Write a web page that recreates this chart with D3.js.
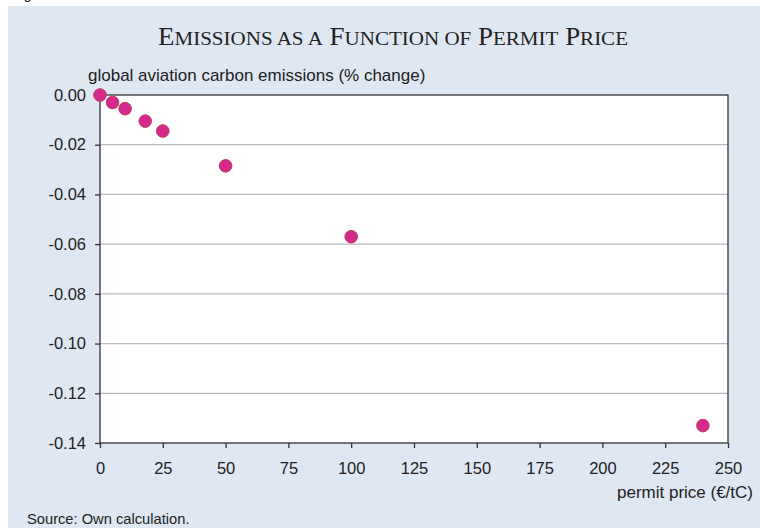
<!DOCTYPE html>
<html>
<head>
<meta charset="utf-8">
<script src="https://cdn.jsdelivr.net/npm/d3@7"></script>
<style>
  body { margin: 0; background: #fff; }
  svg { display: block; }
</style>
</head>
<body>
<svg id="chart" width="760" height="528"></svg>
<script>
// permit price (EUR/tC) vs change in emissions
var prices = [0, 5, 10, 18, 25, 50, 100, 240];
var emissions = [0, -0.003, -0.0055, -0.0105, -0.0145, -0.0285, -0.057, -0.133];
var xTicks = [0, 25, 50, 75, 100, 125, 150, 175, 200, 225, 250];
var yTicks = [0, -0.02, -0.04, -0.06, -0.08, -0.10, -0.12, -0.14];

var svg = d3.select('#chart');
var margin = {left: 100, top: 95, right: 32, bottom: 85},
    w = 760 - margin.left - margin.right,
    h = 528 - margin.top - margin.bottom;
var font = 'Liberation Sans, Arial, sans-serif';

svg.append('rect')
    .attr('x', 8).attr('y', 6)
    .attr('width', 752).attr('height', 522)
    .attr('fill', '#dfe7f3');

// caption above the panel, cut off like in the source
svg.append('text')
    .attr('x', 12).attr('y', -1)
    .attr('font-family', font)
    .attr('font-size', 14)
    .attr('fill', '#222')
    .text('Figure');

var x = d3.scaleLinear().domain([0, 250]).range([0, w]);
var y = d3.scaleLinear().domain([-0.14, 0]).range([h, 0]);

var g = svg.append('g')
    .attr('transform', 'translate(' + margin.left + ',' + margin.top + ')');

g.append('rect')
    .attr('width', w).attr('height', h)
    .attr('fill', '#fff');

g.selectAll('.grid')
    .data(yTicks.slice(1, -1))
    .enter().append('line')
    .attr('class', 'grid')
    .attr('x1', 0).attr('x2', w)
    .attr('y1', function(d) { return y(d); })
    .attr('y2', function(d) { return y(d); })
    .attr('stroke', '#b6b9be')
    .attr('stroke-width', 1.3);

g.append('rect')
    .attr('width', w).attr('height', h)
    .attr('fill', 'none')
    .attr('stroke', '#333')
    .attr('stroke-width', 1.3);

var yAxis = g.append('g')
    .call(d3.axisLeft(y).tickValues(yTicks).tickSize(5).tickPadding(9));
var xAxis = g.append('g')
    .attr('transform', 'translate(0,' + h + ')')
    .call(d3.axisBottom(x).tickValues(xTicks).tickSize(5).tickPadding(14));

[xAxis, yAxis].forEach(function(a) {
    a.select('.domain').remove();
    a.selectAll('line').attr('stroke', '#333').attr('stroke-width', 1.3);
    a.selectAll('text')
        .attr('font-family', font)
        .attr('font-size', 16.5)
        .attr('fill', '#222');
});
yAxis.selectAll('text').text(function(d) { return d3.format('.2f')(d).replace('\u2212', '-'); });

g.selectAll('.dot')
    .data(prices)
    .enter().append('circle')
    .attr('class', 'dot')
    .attr('cx', function(d) { return x(d); })
    .attr('cy', function(d, i) { return y(emissions[i]); })
    .attr('r', 6.3)
    .attr('fill', '#d42a8e')
    .attr('stroke', '#c03a55')
    .attr('stroke-width', 1);

// title in small caps, built by hand
var title = svg.append('text')
    .attr('x', 393).attr('y', 45)
    .attr('text-anchor', 'middle')
    .attr('font-family', 'Liberation Serif, Times New Roman, serif')
    .attr('fill', '#222')
    .attr('textLength', 470)
    .attr('lengthAdjust', 'spacingAndGlyphs');
'Emissions as a Function of Permit Price'.split(' ').forEach(function(word, i) {
    var first = word.charAt(0), rest = word.slice(1);
    var big = first === first.toUpperCase();
    title.append('tspan')
        .attr('font-size', big ? 25 : 19.5)
        .text((i ? ' ' : '') + first.toUpperCase());
    if (rest) {
        title.append('tspan')
            .attr('font-size', 19.5)
            .text(rest.toUpperCase());
    }
});

svg.append('text')
    .attr('x', 88).attr('y', 81)
    .attr('font-family', font)
    .attr('font-size', 17)
    .attr('fill', '#222')
    .text('global aviation carbon emissions (% change)');

svg.append('text')
    .attr('x', 753).attr('y', 498)
    .attr('text-anchor', 'end')
    .attr('font-family', font)
    .attr('font-size', 17)
    .attr('fill', '#222')
    .text('permit price (\u20ac/tC)');

svg.append('text')
    .attr('x', 27).attr('y', 524)
    .attr('font-family', font)
    .attr('font-size', 14.7)
    .attr('fill', '#222')
    .text('Source: Own calculation.');
</script>
</body>
</html>
